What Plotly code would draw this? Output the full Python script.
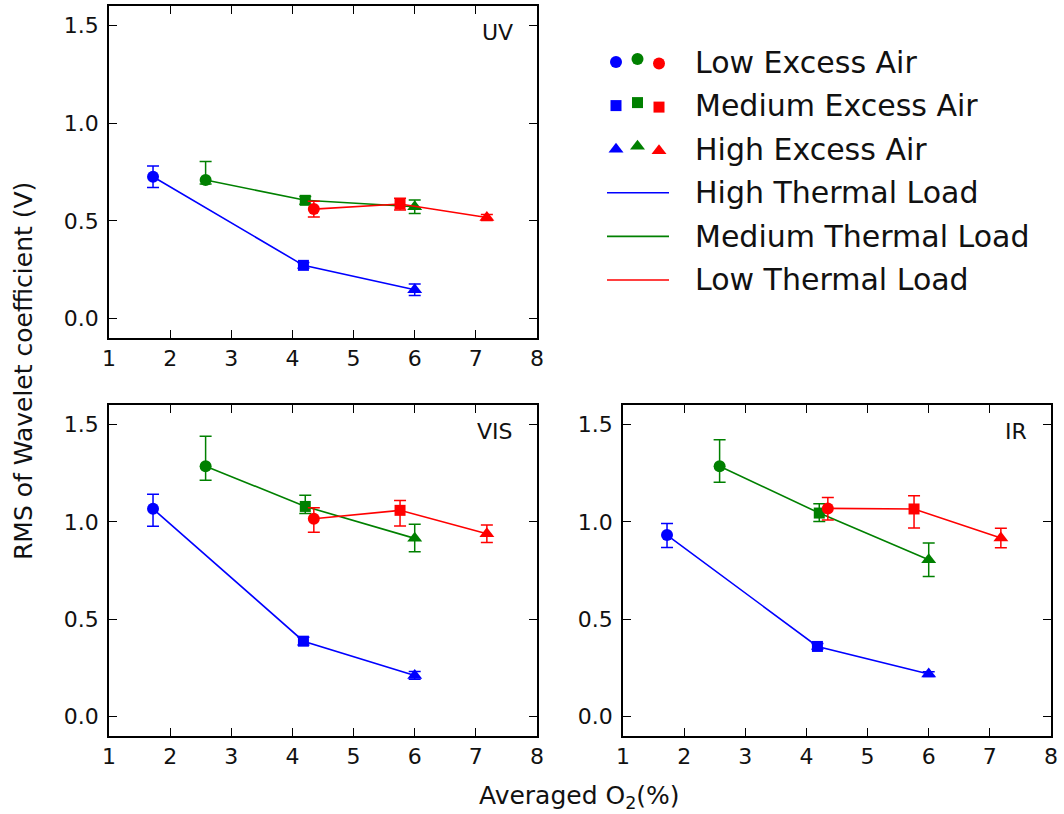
import plotly.graph_objects as go

# ---------------- data ----------------
panels = ["UV", "VIS", "IR"]
loads = ["High Thermal Load", "Medium Thermal Load", "Low Thermal Load"]
load_colors = ["#0000ff", "#008000", "#ff0000"]
air_levels = ["Low Excess Air", "Medium Excess Air", "High Excess Air"]
air_symbols = ["circle", "square", "triangle-up"]

# averaged O2 (%) for each thermal load (low, medium, high excess air)
o2_high_load = [1.72, 4.18, 6.0]
o2_medium_load = [2.58, 4.21, 6.0]
o2_low_load = [4.35, 5.76, 7.18]

# RMS of wavelet coefficient (V)
uv_high = [0.726, 0.272, 0.147]
uv_medium = [0.709, 0.605, 0.572]
uv_low = [0.560, 0.586, 0.517]
vis_high = [1.067, 0.387, 0.211]
vis_medium = [1.286, 1.079, 0.915]
vis_low = [1.016, 1.059, 0.939]
ir_high = [0.932, 0.360, 0.218]
ir_medium = [1.285, 1.045, 0.805]
ir_low = [1.069, 1.066, 0.917]

# error bars (upper, lower)
uv_high_up = [0.055, 0.015, 0.030]
uv_high_dn = [0.055, 0.015, 0.030]
uv_medium_up = [0.095, 0.020, 0.035]
uv_medium_dn = [0.020, 0.020, 0.035]
uv_low_up = [0.040, 0.030, 0.015]
uv_low_dn = [0.040, 0.030, 0.015]
vis_high_up = [0.075, 0.020, 0.020]
vis_high_dn = [0.090, 0.020, 0.020]
vis_medium_up = [0.153, 0.057, 0.072]
vis_medium_dn = [0.073, 0.036, 0.069]
vis_low_up = [0.056, 0.051, 0.045]
vis_low_dn = [0.069, 0.081, 0.045]
ir_high_up = [0.060, 0.015, 0.012]
ir_high_dn = [0.064, 0.015, 0.012]
ir_medium_up = [0.137, 0.048, 0.086]
ir_medium_dn = [0.082, 0.043, 0.086]
ir_low_up = [0.056, 0.068, 0.050]
ir_low_dn = [0.059, 0.098, 0.050]

x_ticks = [1, 2, 3, 4, 5, 6, 7, 8]
y_ticks = [0.0, 0.5, 1.0, 1.5]

# ---------------- layout constants ----------------
W, H = 1064, 814
FONT = "DejaVu Sans"
TICK_FONT = 22
LABEL_FONT = 25
LEG_FONT = 30

# pixel boxes of the axes: (left, right, top, bottom)
boxes = {
    "UV": (109, 537, 6, 338),
    "VIS": (109, 537, 405, 736),
    "IR": (623, 1051, 405, 736),
}

o2 = [o2_high_load, o2_medium_load, o2_low_load]
vals = {
    "UV": [uv_high, uv_medium, uv_low],
    "VIS": [vis_high, vis_medium, vis_low],
    "IR": [ir_high, ir_medium, ir_low],
}
errs_up = {
    "UV": [uv_high_up, uv_medium_up, uv_low_up],
    "VIS": [vis_high_up, vis_medium_up, vis_low_up],
    "IR": [ir_high_up, ir_medium_up, ir_low_up],
}
errs_dn = {
    "UV": [uv_high_dn, uv_medium_dn, uv_low_dn],
    "VIS": [vis_high_dn, vis_medium_dn, vis_low_dn],
    "IR": [ir_high_dn, ir_medium_dn, ir_low_dn],
}

fig = go.Figure()
marker_sizes = {"circle": 12, "square": 11, "triangle-up": 13}

annotations = []
for i, p in enumerate(panels):
    ax = "" if i == 0 else str(i + 1)
    xref, yref = "x" + ax, "y" + ax
    l, r, t, b = boxes[p]
    fig.update_layout(**{
        "xaxis" + ax: dict(
            domain=[l / W, r / W], range=[1, 8], tickvals=x_ticks,
            ticks="inside", ticklen=8, tickwidth=1.2, tickcolor="black",
            mirror="ticks", showline=True, linecolor="black", linewidth=1.5,
            showgrid=False, zeroline=False, automargin=False,
            tickfont=dict(family=FONT, size=TICK_FONT, color="#111"),
            anchor=yref,
        ),
        "yaxis" + ax: dict(
            domain=[1 - b / H, 1 - t / H], range=[-0.1, 1.6], tickvals=y_ticks,
            tickformat=".1f",
            ticks="inside", ticklen=8, tickwidth=1.2, tickcolor="black",
            mirror="ticks", showline=True, linecolor="black", linewidth=1.5,
            showgrid=False, zeroline=False, automargin=False,
            ticklabelstandoff=4,
            tickfont=dict(family=FONT, size=TICK_FONT, color="#111"),
            anchor=xref,
        ),
    })
    for k in range(3):
        fig.add_trace(go.Scatter(
            x=o2[k], y=vals[p][k], xaxis=xref, yaxis=yref,
            mode="lines+markers", showlegend=False,
            line=dict(color=load_colors[k], width=1.6),
            marker=dict(color=load_colors[k], symbol=air_symbols, opacity=1,
                        size=[marker_sizes[s] for s in air_symbols],
                        line=dict(width=0)),
            error_y=dict(type="data", symmetric=False,
                         array=errs_up[p][k], arrayminus=errs_dn[p][k],
                         color=load_colors[k], thickness=1.5, width=6),
        ))
    annotations.append(dict(
        text=p, xref=xref + " domain", yref=yref + " domain",
        x=1, y=1, xanchor="right", yanchor="top", xshift=-22, yshift=-12,
        showarrow=False, font=dict(family=FONT, size=TICK_FONT, color="#111"),
    ))

# ---------------- custom legend ----------------
LEG_MX0, LEG_MDX = 616, 21.5
LEG_MDY = [0, -3, 1.5]          # matplotlib-style scatter-point y offsets
LEG_Y0, LEG_DY = 62, 43.6
LEG_LINE = (607, 669)
LEG_TEXT_X = 693
LEG_BOX = (590, 1060, 30, 300)  # left, right, top, bottom (pixels)

lb_l, lb_r, lb_t, lb_b = LEG_BOX
fig.update_layout(
    xaxis4=dict(domain=[lb_l / W, lb_r / W], range=[lb_l, lb_r], visible=False,
                fixedrange=True, anchor="y4"),
    yaxis4=dict(domain=[1 - lb_b / H, 1 - lb_t / H], range=[lb_b, lb_t], visible=False,
                fixedrange=True, anchor="x4"),
)
for row, (name, sym) in enumerate(zip(air_levels, air_symbols)):
    yy = LEG_Y0 + row * LEG_DY
    fig.add_trace(go.Scatter(
        x=[LEG_MX0 + c * LEG_MDX for c in range(3)], y=[yy + d for d in LEG_MDY],
        xaxis="x4", yaxis="y4", mode="markers", showlegend=False, hoverinfo="skip",
        marker=dict(color=load_colors, symbol=sym, size=marker_sizes[sym], line=dict(width=0)),
    ))
    annotations.append(dict(text=name, xref="paper", yref="paper",
                            x=LEG_TEXT_X / W, y=1 - yy / H, xanchor="left", yanchor="middle",
                            showarrow=False, font=dict(family=FONT, size=LEG_FONT, color="#111")))
for k, name in enumerate(loads):
    yy = LEG_Y0 + (3 + k) * LEG_DY
    fig.add_trace(go.Scatter(
        x=list(LEG_LINE), y=[yy, yy], xaxis="x4", yaxis="y4", mode="lines",
        showlegend=False, hoverinfo="skip", line=dict(color=load_colors[k], width=1.6),
    ))
    annotations.append(dict(text=name, xref="paper", yref="paper",
                            x=LEG_TEXT_X / W, y=1 - yy / H, xanchor="left", yanchor="middle",
                            showarrow=False, font=dict(family=FONT, size=LEG_FONT, color="#111")))

# axis titles
annotations.append(dict(text="RMS of Wavelet coefficient (V)", xref="paper", yref="paper",
                        x=23 / W, y=1 - 371 / H, textangle=-90, showarrow=False,
                        xanchor="center", yanchor="middle",
                        font=dict(family=FONT, size=LABEL_FONT, color="#111")))
annotations.append(dict(text="Averaged O<sub>2</sub>(%)", xref="paper", yref="paper",
                        x=579 / W, y=1 - 797 / H, showarrow=False,
                        xanchor="center", yanchor="middle",
                        font=dict(family=FONT, size=LABEL_FONT, color="#111")))

fig.update_layout(
    width=W, height=H, margin=dict(l=0, r=0, t=0, b=0),
    paper_bgcolor="white", plot_bgcolor="rgba(0,0,0,0)",
    annotations=annotations, showlegend=False,
)

fig.write_html("out.html")
